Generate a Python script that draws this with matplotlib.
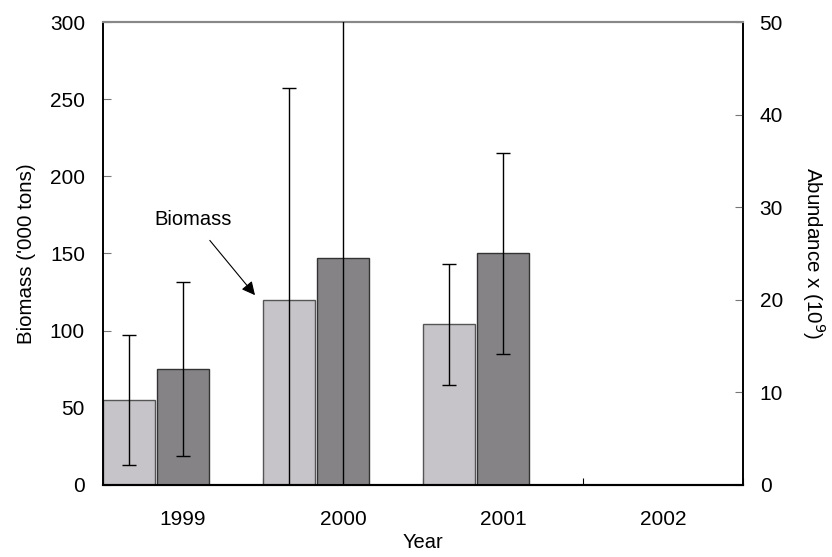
import numpy as np
import matplotlib.pyplot as plt

plt.rcParams['font.family'] = ['Liberation Sans', 'DejaVu Sans']

years = ['1999', '2000', '2001', '2002']
biomass = [55, 120, 104]
biomass_err = [42, 137, 39]
abundance = [12.5, 24.5, 25.0]
abundance_err = [9.4, 27.0, 10.9]

light = '#c6c4c8'
dark = '#858386'
w = 0.325

fig = plt.figure(figsize=(8.32, 5.57), dpi=100)
ax = fig.add_axes([0.1238, 0.1293, 0.7692, 0.8312])
ax2 = ax.twinx()

xi = np.arange(len(biomass))
ax.bar(xi, biomass, width=w, align='edge', color=light, edgecolor='#555555', linewidth=1.0, zorder=2)
ax.errorbar(xi + w / 2, biomass, yerr=biomass_err, fmt='none', ecolor='black',
            elinewidth=1.0, capsize=5, capthick=1.0, zorder=3)

ax2.bar(xi + w + 0.01, abundance, width=w, align='edge', color=dark, edgecolor='#333333', linewidth=1.0, zorder=2)
ax2.errorbar(xi + w + 0.01 + w / 2, abundance, yerr=abundance_err, fmt='none', ecolor='black',
             elinewidth=1.0, capsize=5, capthick=1.0, zorder=3)

ax.set_xlim(0, 4)
ax.set_ylim(0, 300)
ax2.set_ylim(0, 50)
ax.set_yticks(range(0, 301, 50))
ax2.set_yticks(range(0, 51, 10))
ax.set_xticks(range(0, 5))
ax.set_xticklabels([])
ax.set_xticks(np.arange(len(years)) + 0.5, minor=True)
ax.set_xticklabels(years, minor=True)
ax.tick_params(axis='x', which='major', direction='in', length=5, color='black')
ax.tick_params(axis='x', which='minor', length=0, pad=18, labelsize=15)
ax.tick_params(axis='y', direction='in', length=6, labelsize=15, pad=13, color='#777777')
ax2.tick_params(axis='y', direction='in', length=6, labelsize=15, pad=12, color='#777777')

for a in (ax, ax2):
    a.spines['top'].set_color('#888888')
    a.spines['top'].set_linewidth(1.5)
    a.spines['left'].set_linewidth(1.2)
    a.spines['right'].set_linewidth(1.2)
    a.spines['bottom'].set_linewidth(1.5)

ax.set_xlabel('Year', fontsize=14.5, labelpad=3)
ax.set_ylabel("Biomass ('000 tons)", fontsize=14.8, labelpad=10)
ax2.set_ylabel('Abundance x (10$^9$)', fontsize=14.8, rotation=270, labelpad=32)

ax.annotate('Biomass', xy=(0.95, 123), xytext=(0.56, 172),
            ha='center', va='center', fontsize=14.5,
            arrowprops=dict(arrowstyle='-|>', color='black', lw=0.8,
                            mutation_scale=20, shrinkA=8, shrinkB=0),
            zorder=5)

plt.savefig('out.png', dpi=100)
